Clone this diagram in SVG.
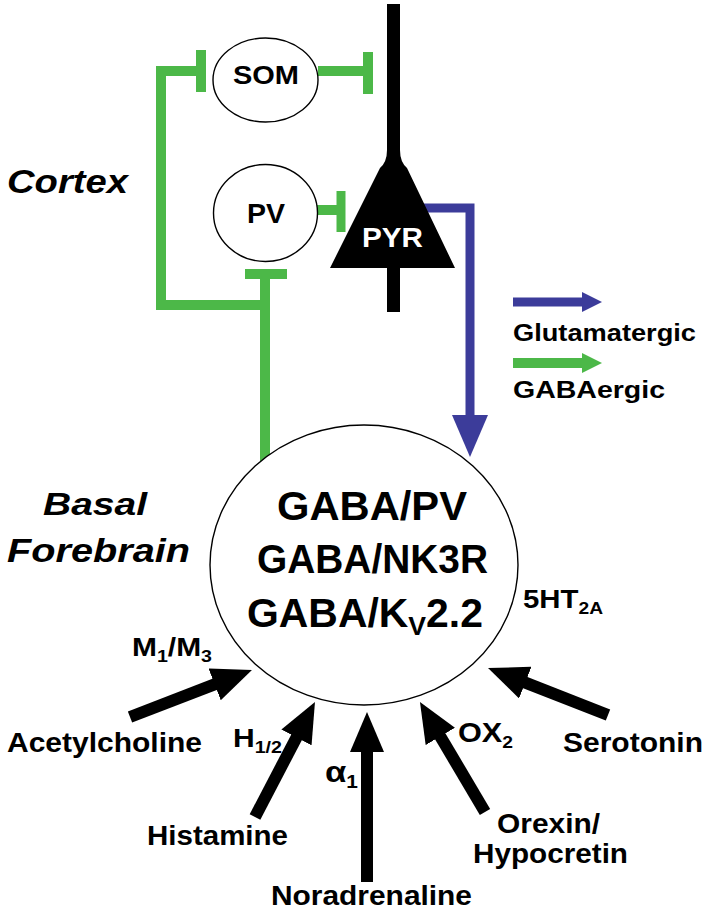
<svg xmlns="http://www.w3.org/2000/svg" width="708" height="914" viewBox="0 0 708 914">
<defs>
<style>
.t{font-family:"Liberation Sans",Arial,sans-serif;font-weight:bold;fill:#000}
.it{font-style:italic}
.cell{fill:#fff;stroke:#000;stroke-width:1.4}
.g{stroke:#4cb848;fill:none;stroke-width:10}
.gb{stroke:#4cb848;fill:none;stroke-width:9}
.b{stroke:#3c3c9a;fill:none;stroke-width:9}
.k{stroke:#000;fill:none;stroke-width:12}
</style>
<marker id="hk" markerUnits="userSpaceOnUse" markerWidth="40" markerHeight="34" refX="2" refY="17" orient="auto"><path d="M0,0 L40,17 L0,34 z" fill="#000"/></marker>
<marker id="hb" markerUnits="userSpaceOnUse" markerWidth="42" markerHeight="36" refX="2" refY="18" orient="auto"><path d="M0,0 L42,18 L0,36 z" fill="#3c3c9a"/></marker>
<marker id="hbs" markerUnits="userSpaceOnUse" markerWidth="20" markerHeight="20" refX="1" refY="10" orient="auto"><path d="M0,0 L20,10 L0,20 z" fill="#3c3c9a"/></marker>
<marker id="hgs" markerUnits="userSpaceOnUse" markerWidth="20" markerHeight="20" refX="1" refY="10" orient="auto"><path d="M0,0 L20,10 L0,20 z" fill="#4cb848"/></marker>
</defs>
<rect width="708" height="914" fill="#fff"/>

<g id="labels">
<text class="t it" x="7" y="193" font-size="34" textLength="121" lengthAdjust="spacingAndGlyphs">Cortex</text>
<text class="t it" x="43" y="515" font-size="32" textLength="104" lengthAdjust="spacingAndGlyphs">Basal</text>
<text class="t it" x="7" y="562" font-size="33" textLength="183" lengthAdjust="spacingAndGlyphs">Forebrain</text>
</g>

<g id="connectors">
<path class="g" d="M201,71 H161 V305 H265 V274"/>
<path class="g" d="M265,274 V462"/>
<path class="g" d="M245,274 H287"/>
<path class="g" d="M201,50 V92"/>
<path class="g" d="M318,71 H368"/>
<path class="g" d="M368,52 V94"/>
<path class="g" d="M317,210 H341"/>
<path class="gb" d="M341,191 V232"/>
<path class="b" d="M418,208 H470 V417" marker-end="url(#hb)"/>
<line class="k" x1="130" y1="717" x2="216.5" y2="683.7" marker-end="url(#hk)"/>
<line class="k" x1="255" y1="817" x2="297.4" y2="735.7" marker-end="url(#hk)"/>
<line class="k" x1="367" y1="882" x2="367" y2="750" marker-end="url(#hk)"/>
<line class="k" x1="485" y1="812" x2="439.3" y2="734.7" marker-end="url(#hk)"/>
<line class="k" x1="608" y1="715" x2="523.4" y2="681.9" marker-end="url(#hk)"/>
</g>

<g id="SOM">
<ellipse class="cell" cx="265.5" cy="80" rx="52.5" ry="42"/>
<text class="t" x="233" y="84" font-size="25" textLength="66" lengthAdjust="spacingAndGlyphs">SOM</text>
</g>

<g id="PV">
<ellipse class="cell" cx="265.5" cy="213" rx="52" ry="48.5"/>
<text class="t" x="247" y="223" font-size="28" textLength="38" lengthAdjust="spacingAndGlyphs">PV</text>
</g>

<g id="PYR">
<rect x="387" y="4" width="13" height="160" fill="#000"/>
<path d="M387,150 Q387,162 380,168 L330,268 H455 L407,168 Q400,162 400,150 Z" fill="#000"/>
<rect x="387" y="266" width="13" height="46" fill="#000"/>
<text x="362" y="247" font-size="28" textLength="61" lengthAdjust="spacingAndGlyphs" font-family="Liberation Sans, Arial, sans-serif" font-weight="bold" fill="#fff">PYR</text>
</g>

<g id="BF">
<ellipse class="cell" cx="364" cy="565" rx="154" ry="140"/>
<text class="t" x="277" y="520" font-size="40" textLength="190" lengthAdjust="spacingAndGlyphs">GABA/PV</text>
<text class="t" x="257" y="573" font-size="40" textLength="231" lengthAdjust="spacingAndGlyphs">GABA/NK3R</text>
<text class="t" x="247" y="627" font-size="40" textLength="236" lengthAdjust="spacingAndGlyphs">GABA/K<tspan font-size="26" dy="8">V</tspan><tspan dy="-8">2.2</tspan></text>
</g>

<g id="legend">
<line class="b" x1="513" y1="302" x2="583" y2="302" stroke-width="7" marker-end="url(#hbs)"/>
<text class="t" x="513" y="341" font-size="24" textLength="183" lengthAdjust="spacingAndGlyphs">Glutamatergic</text>
<line class="g" x1="513" y1="363" x2="583" y2="363" stroke-width="7" marker-end="url(#hgs)"/>
<text class="t" x="513" y="398" font-size="24" textLength="152" lengthAdjust="spacingAndGlyphs">GABAergic</text>
</g>

<g id="inputs">
<text class="t" x="7" y="752" font-size="28" textLength="195" lengthAdjust="spacingAndGlyphs">Acetylcholine</text>
<text class="t" x="147" y="845" font-size="28" textLength="141" lengthAdjust="spacingAndGlyphs">Histamine</text>
<text class="t" x="271" y="905" font-size="28" textLength="201" lengthAdjust="spacingAndGlyphs">Noradrenaline</text>
<text class="t" x="497" y="833" font-size="28" textLength="103" lengthAdjust="spacingAndGlyphs">Orexin/</text>
<text class="t" x="473" y="863" font-size="28" textLength="155" lengthAdjust="spacingAndGlyphs">Hypocretin</text>
<text class="t" x="563" y="752" font-size="27" textLength="140" lengthAdjust="spacingAndGlyphs">Serotonin</text>
<text class="t" x="132" y="656" font-size="26" textLength="80" lengthAdjust="spacingAndGlyphs">M<tspan font-size="17" dy="6">1</tspan><tspan dy="-6">/M</tspan><tspan font-size="17" dy="6">3</tspan></text>
<text class="t" x="233" y="747" font-size="26" textLength="49" lengthAdjust="spacingAndGlyphs">H<tspan font-size="17" dy="6">1/2</tspan></text>
<text class="t" x="325" y="782" font-size="30" textLength="33" lengthAdjust="spacingAndGlyphs">α<tspan font-size="18" dy="6">1</tspan></text>
<text class="t" x="458" y="742" font-size="27" textLength="55" lengthAdjust="spacingAndGlyphs">OX<tspan font-size="17" dy="6">2</tspan></text>
<text class="t" x="523" y="608" font-size="26" textLength="80" lengthAdjust="spacingAndGlyphs">5HT<tspan font-size="17" dy="6">2A</tspan></text>
</g>
</svg>
